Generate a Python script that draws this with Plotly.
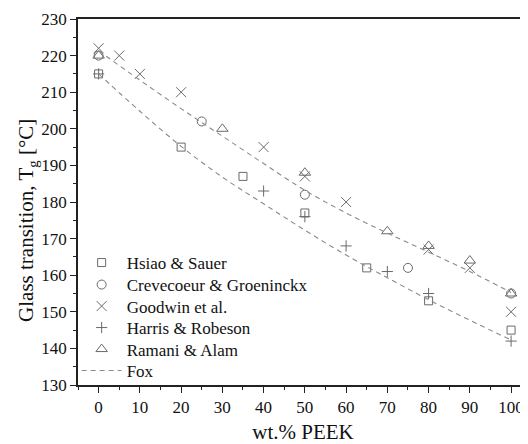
import plotly.graph_objects as go

# ---- data ----
hsiao_x = [0, 20, 35, 50, 65, 80, 100]
hsiao_y = [215, 195, 187, 177, 162, 153, 145]

crev_x = [0, 25, 50, 75, 100]
crev_y = [220, 202, 182, 162, 155]

goodwin_x = [0, 5, 10, 20, 40, 50, 60, 80, 90, 100]
goodwin_y = [222, 220, 215, 210, 195, 187, 180, 167, 162, 150]

harris_x = [0, 40, 50, 60, 70, 80, 100]
harris_y = [215, 183, 176, 168, 161, 155, 142]

ramani_x = [0, 30, 50, 70, 80, 90, 100]
ramani_y = [220, 200, 188, 172, 168, 164, 155]

fox_x = [0, 10, 20, 30, 40, 50, 60, 70, 80, 90, 100]
fox_upper = [221.3, 213.3, 205.5, 198.0, 190.5, 183.2, 177.0, 171.5, 166.3, 161.0, 155.3]
fox_lower = [215.0, 204.8, 195.2, 186.8, 179.5, 172.3, 165.5, 159.3, 153.3, 147.7, 142.3]

x_ticks = list(range(0, 101, 10))
y_ticks = list(range(130, 231, 10))

FONT = "Liberation Serif, Times New Roman, serif"
MC = "#6a6a6a"

fig = go.Figure()

def add_markers(x, y, name, symbol, size, legend):
    fig.add_trace(go.Scatter(
        x=x, y=y, mode="markers", name=name, legend=legend,
        marker=dict(symbol=symbol, size=size, color=MC,
                    line=dict(color=MC, width=1)),
    ))

add_markers(hsiao_x, hsiao_y, "Hsiao & Sauer", "square-open", 8, "legend")
add_markers(crev_x, crev_y, "Crevecoeur & Groeninckx", "circle-open", 9, "legend2")
add_markers(goodwin_x, goodwin_y, "Goodwin et al.", "x-thin-open", 10, "legend3")
add_markers(harris_x, harris_y, "Harris & Robeson", "cross-thin-open", 8, "legend4")
add_markers(ramani_x, ramani_y, "Ramani & Alam", "triangle-up-open", 10, "legend5")

fig.add_trace(go.Scatter(
    x=fox_x, y=fox_upper, mode="lines", name="Fox", legend="legend6",
    line=dict(color="#8a8a8a", width=1.1, dash="5px,4px", shape="spline"),
))
fig.add_trace(go.Scatter(
    x=fox_x, y=fox_lower, mode="lines", name="Fox", showlegend=False,
    line=dict(color="#8a8a8a", width=1.1, dash="5px,4px", shape="spline"),
))

# legend rows (figure is drawn 8px inside the page; plot area spans y 11..377)
row_px = [255, 277, 298.5, 320, 341.5, 363]
def ypaper(py):
    return (377 - py) / 366.0

leg_common = dict(x=-0.003, xanchor="left", yanchor="middle", bgcolor="rgba(0,0,0,0)",
                  font=dict(size=17, family=FONT, color="#111"), itemwidth=40,
                  borderwidth=0)
legends = {}
for i, py in enumerate(row_px):
    key = "legend" if i == 0 else f"legend{i+1}"
    legends[key] = dict(leg_common, y=ypaper(py))

fig.update_layout(
    width=520, height=436,
    margin=dict(l=70, r=0, t=11, b=59),
    paper_bgcolor="white", plot_bgcolor="white",
    font=dict(family=FONT, size=17, color="#111"),
    showlegend=True,
    **legends,
    xaxis=dict(
        range=[-5, 104.1], tickvals=x_ticks, ticks="outside", ticklen=6, tickwidth=1.2,
        tickcolor="#222", showline=True, linecolor="#222", linewidth=1.5, mirror=True,
        showgrid=False, zeroline=False,
        minor=dict(ticks="outside", dtick=5, tick0=0, ticklen=3.5, tickwidth=1.2, tickcolor="#222"),
        title=dict(text="wt.% PEEK", font=dict(size=21, family=FONT), standoff=9),
        tickfont=dict(size=17, family=FONT),
    ),
    yaxis=dict(
        range=[130, 230], tickvals=y_ticks, ticks="outside", ticklen=6, tickwidth=1.2,
        tickcolor="#222", showline=True, linecolor="#222", linewidth=1.5,
        showgrid=False, zeroline=False,
        minor=dict(ticks="outside", dtick=5, tick0=130, ticklen=3.5, tickwidth=1.2, tickcolor="#222"),
        tickfont=dict(size=17, family=FONT),
    ),
    annotations=[dict(
        text="Glass transition, T<sub>g</sub> [°C]", textangle=-90,
        xref="paper", yref="paper", x=-0.112, y=0.45, xanchor="center", yanchor="middle",
        showarrow=False, font=dict(size=21, family=FONT, color="#111"),
    )],
)

fig.write_html("out.html")
